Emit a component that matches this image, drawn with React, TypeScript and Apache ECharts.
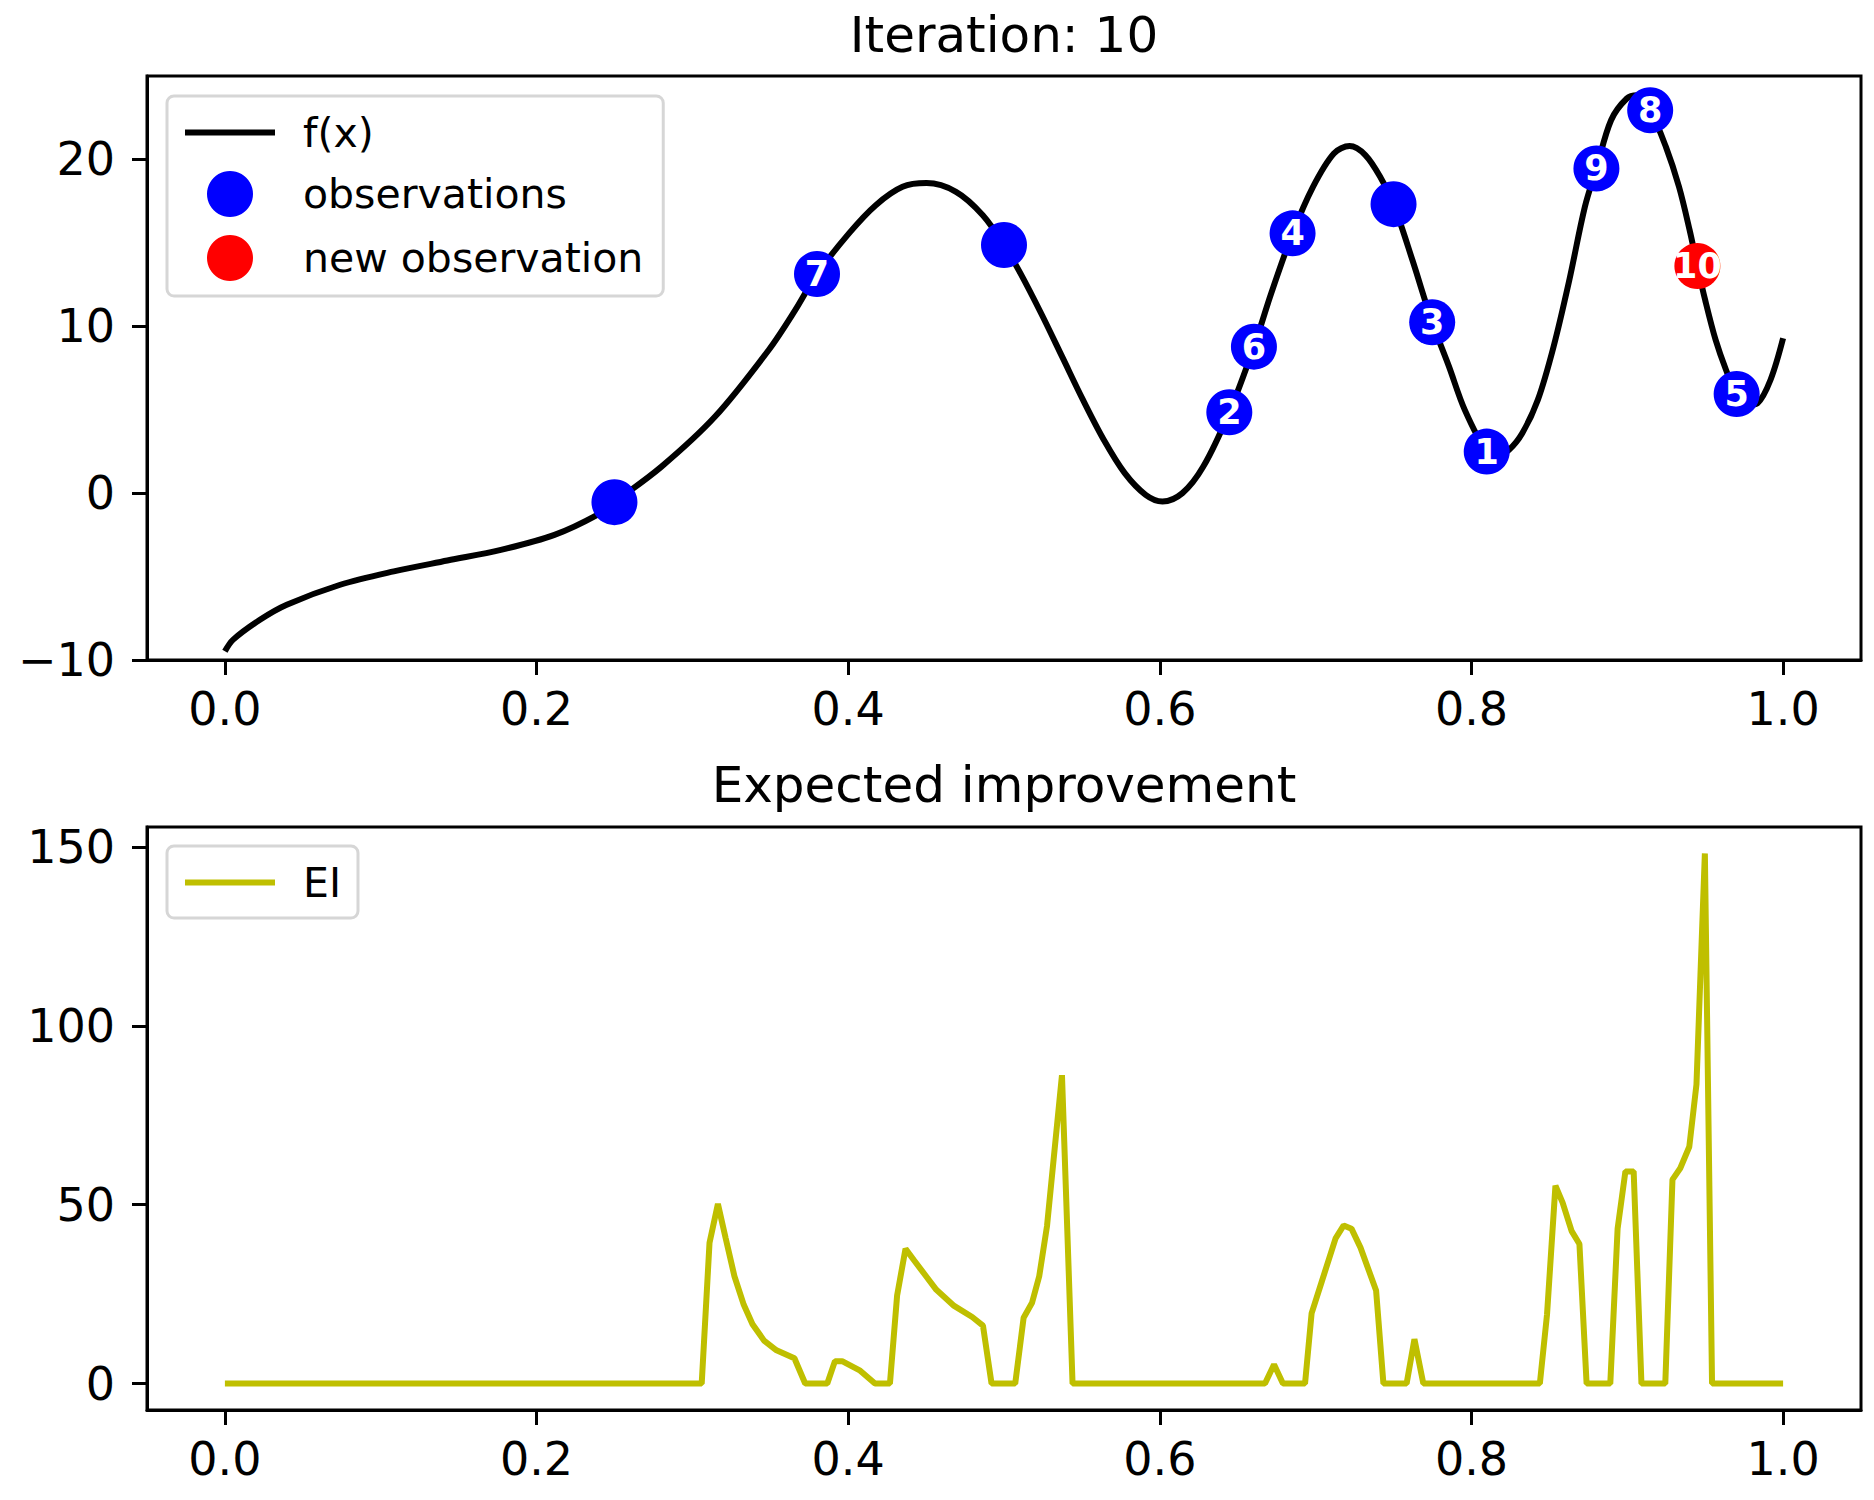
import React, { useEffect, useRef } from "react";
import * as echarts from "echarts";

// f(x) curve
const fxX = [0, 0.0053, 0.0225, 0.0397, 0.074, 0.1084, 0.1428, 0.1771, 0.2115, 0.239, 0.25, 0.2802, 0.3146, 0.349, 0.3661, 0.38, 0.4005, 0.4177, 0.4349, 0.4503, 0.4692, 0.4864, 0.5, 0.5104, 0.5238, 0.5373, 0.5507, 0.5641, 0.5775, 0.5909, 0.6017, 0.6145, 0.6279, 0.6446, 0.6604, 0.6715, 0.6852, 0.6983, 0.7117, 0.7218, 0.7319, 0.742, 0.75, 0.7621, 0.7748, 0.7856, 0.7957, 0.8098, 0.8165, 0.824, 0.8326, 0.8426, 0.8527, 0.8628, 0.8728, 0.8802, 0.8896, 0.8997, 0.9063, 0.9147, 0.9248, 0.9332, 0.94, 0.945, 0.95, 0.9567, 0.9634, 0.9702, 0.978, 0.9836, 0.9919, 1.0];
const fxY = [-9.48, -8.78, -7.59, -6.69, -5.49, -4.69, -4.04, -3.4, -2.5, -1.3, -0.54, 1.59, 4.59, 8.58, 10.98, 13.13, 15.57, 17.26, 18.36, 18.58, 18.06, 16.66, 14.87, 13.2, 10.78, 8.18, 5.59, 3.19, 1.2, -0.1, -0.5, 0, 1.59, 4.85, 8.78, 11.98, 15.57, 18.36, 20.36, 20.8, 20.26, 18.86, 17.32, 13.97, 10.24, 7.58, 4.99, 2.49, 2.25, 2.59, 3.59, 5.59, 8.78, 12.77, 17.16, 19.46, 22.35, 23.65, 23.85, 22.95, 20.75, 18.36, 15.77, 13.61, 11.57, 9.18, 7.38, 5.94, 5.3, 5.39, 6.78, 9.28];

// observations (blue); empty label = initial points
const obsX = [0.25, 0.5, 0.75, 0.8098, 0.6446, 0.7748, 0.6852, 0.9702, 0.6604, 0.38, 0.9147, 0.8802];
const obsY = [-0.54, 14.87, 17.32, 2.49, 4.85, 10.24, 15.57, 5.94, 8.78, 13.13, 22.95, 19.46];
const obsLabels = ["", "", "", "1", "2", "3", "4", "5", "6", "7", "8", "9"];

// new observation (red)
const newX = [0.945];
const newY = [13.61];
const newLabels = ["10"];

// Expected improvement vertices
const eiX = [0, 0.306, 0.311, 0.3164, 0.3214, 0.327, 0.333, 0.3386, 0.346, 0.354, 0.3655, 0.3724, 0.3866, 0.3915, 0.3961, 0.4077, 0.4172, 0.4268, 0.4314, 0.4368, 0.442, 0.45, 0.4566, 0.468, 0.4796, 0.4865, 0.492, 0.5072, 0.5126, 0.518, 0.5226, 0.5276, 0.5372, 0.544, 0.6675, 0.6733, 0.679, 0.6932, 0.6974, 0.704, 0.7128, 0.718, 0.723, 0.7288, 0.7388, 0.7435, 0.7584, 0.7634, 0.7691, 0.8439, 0.8485, 0.8539, 0.8585, 0.8643, 0.8693, 0.8739, 0.8891, 0.8938, 0.8988, 0.9041, 0.9091, 0.9244, 0.929, 0.934, 0.9398, 0.9444, 0.9498, 0.9544, 1.0];
const eiY = [0, 0, 39.3, 50.2, 40.6, 30, 22, 16.6, 12, 9.3, 7.06, 0, 0, 6.26, 6.26, 3.6, 0, 0, 24.6, 37.7, 34.6, 30, 26.2, 21.7, 18.6, 16.2, 0, 0, 18.4, 22.6, 30, 44, 86.2, 0, 0, 5.3, 0, 0, 19.6, 28.6, 40.6, 44.2, 43.3, 38, 26, 0, 0, 12.4, 0, 0, 19.3, 55.3, 50.6, 42.6, 39, 0, 0, 43.3, 59.3, 59.3, 0, 0, 57, 60.2, 66.2, 83.6, 148.2, 0, 0];

const xTicks = [0, 0.2, 0.4, 0.6, 0.8, 1.0];
const topYTicks = [-10, 0, 10, 20];
const botYTicks = [0, 50, 100, 150];

const FONT = "DejaVu Sans";

export default function App() {
  const ref = useRef<HTMLDivElement>(null);
  useEffect(() => {
    if (!ref.current) return;
    const chart = echarts.init(ref.current, null, { renderer: "svg" });

    const gridBase = { left: 147, width: 1714, show: true, borderColor: "#000", borderWidth: 3, backgroundColor: "#fff", containLabel: false };
    const xAxisBase = (gridIndex: number) => ({
      type: "value",
      gridIndex,
      min: -0.05,
      max: 1.05,
      axisLine: { show: true, onZero: false, lineStyle: { color: "#000", width: 3 } },
      axisTick: { show: true, length: 15, lineStyle: { color: "#000", width: 3 }, customValues: xTicks },
      axisLabel: { show: true, color: "#000", fontFamily: FONT, fontSize: 46, lineHeight: 46, margin: 26, customValues: xTicks, formatter: (v: number) => v.toFixed(1) },
      splitLine: { show: false },
    });
    const yAxisBase = (gridIndex: number, min: number, max: number, ticks: number[]) => ({
      type: "value",
      gridIndex,
      min,
      max,
      axisLine: { show: true, onZero: false, lineStyle: { color: "#000", width: 3 } },
      axisTick: { show: true, length: 15, lineStyle: { color: "#000", width: 3 }, customValues: ticks },
      axisLabel: { show: true, color: "#000", fontFamily: FONT, fontSize: 46, margin: 32, customValues: ticks, formatter: (v: number) => String(Math.round(v)).replace("-", "\u2212") },
      splitLine: { show: false },
    });

    const legendBase = {
      orient: "vertical",
      left: 167,
      itemWidth: 90,
      itemHeight: 46,
      itemGap: 18,
      selectedMode: false,
      backgroundColor: "#fff",
      borderColor: "#d6d6d6",
      borderWidth: 3,
      borderRadius: 7,
      textStyle: { fontFamily: FONT, fontSize: 41, color: "#000", padding: [0, 0, 0, 23] },
    };

    const labelStyle = { show: true, position: "inside", color: "#fff", fontFamily: FONT, fontWeight: "bold", fontSize: 35, formatter: (p: any) => p.name };

    chart.setOption({
      animation: false,
      backgroundColor: "#fff",
      title: [
        { text: "Iteration: 10", left: 1004, top: 10, textAlign: "center", padding: 0, textStyle: { fontFamily: FONT, fontSize: 50, fontWeight: "normal", color: "#000" } },
        { text: "Expected improvement", left: 1004, top: 760, textAlign: "center", padding: 0, textStyle: { fontFamily: FONT, fontSize: 50, fontWeight: "normal", color: "#000" } },
      ],
      grid: [
        { ...gridBase, top: 76, height: 584 },
        { ...gridBase, top: 827, height: 583 },
      ],
      xAxis: [xAxisBase(0), xAxisBase(1)],
      yAxis: [yAxisBase(0, -10, 25, topYTicks), yAxisBase(1, -7.4, 155.6, botYTicks)],
      legend: [
        {
          ...legendBase,
          top: 96,
          padding: [16, 20, 15, 15],
          data: [
            { name: "f(x)", itemStyle: { opacity: 0 }, lineStyle: { color: "#000", width: 6 } },
            { name: "observations", icon: "circle" },
            { name: "new observation", icon: "circle" },
          ],
        },
        {
          ...legendBase,
          top: 846,
          padding: [16, 17, 15, 15],
          data: [{ name: "EI", itemStyle: { opacity: 0 }, lineStyle: { color: "#bfbf00", width: 6 } }],
        },
      ],
      series: [
        {
          name: "f(x)",
          type: "line",
          xAxisIndex: 0,
          yAxisIndex: 0,
          data: fxX.map((x, i) => [x, fxY[i]]),
          smooth: 0.33,
          symbol: "none",
          showSymbol: false,
          lineStyle: { color: "#000", width: 6 },
          itemStyle: { color: "#000" },
          z: 2,
        },
        {
          name: "observations",
          type: "scatter",
          xAxisIndex: 0,
          yAxisIndex: 0,
          data: obsX.map((x, i) => ({ value: [x, obsY[i]], name: obsLabels[i] })),
          symbol: "circle",
          symbolSize: 46,
          itemStyle: { color: "#0000ff", opacity: 1 },
          label: labelStyle,
          z: 3,
        },
        {
          name: "new observation",
          type: "scatter",
          xAxisIndex: 0,
          yAxisIndex: 0,
          data: newX.map((x, i) => ({ value: [x, newY[i]], name: newLabels[i] })),
          symbol: "circle",
          symbolSize: 46,
          itemStyle: { color: "#ff0000", opacity: 1 },
          label: labelStyle,
          z: 4,
        },
        {
          name: "EI",
          type: "line",
          xAxisIndex: 1,
          yAxisIndex: 1,
          data: eiX.map((x, i) => [x, eiY[i]]),
          symbol: "none",
          showSymbol: false,
          lineStyle: { color: "#bfbf00", width: 6 },
          itemStyle: { color: "#bfbf00" },
          z: 2,
        },
      ],
    });
    return () => chart.dispose();
  }, []);
  return <div ref={ref} style={{ position: "absolute", left: 0, top: 0, width: 1874, height: 1500, background: "#fff" }} />;
}
